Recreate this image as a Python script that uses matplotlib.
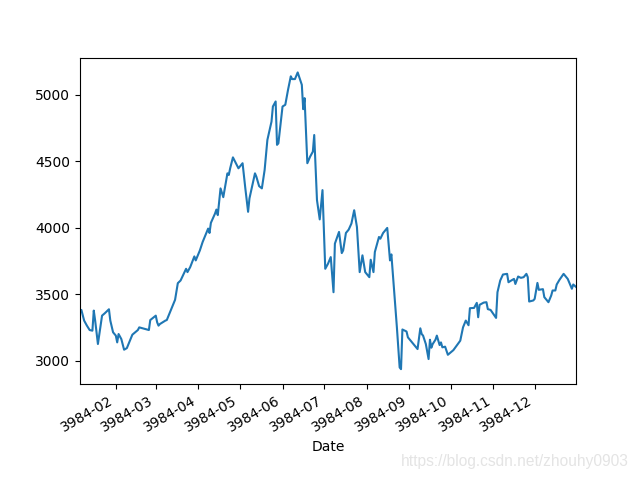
import datetime as dt
import matplotlib
matplotlib.use("Agg")
import matplotlib.pyplot as plt
import matplotlib.dates as mdates

year = 3984
day_offsets = [5, 6, 8, 10, 12, 14, 15, 16, 18, 21, 23, 26, 27, 29, 31, 32, 33, 35, 37, 39,
               41, 43, 45, 47, 48, 55, 56, 60, 61, 62, 63, 67, 68, 71, 74, 76, 78, 82, 83, 85,
               88, 89, 92, 94, 97, 98, 99, 100, 103, 104, 105, 107, 109, 112, 113, 114, 116, 120, 123, 125,
               127, 128, 132, 133, 135, 137, 139, 141, 144, 145, 147, 148, 149, 152, 154, 156, 158, 159, 161, 163,
               166, 167, 168, 170, 172, 174, 175, 177, 179, 181, 183, 185, 187, 189, 190, 193, 195, 196, 198, 200,
               202, 204, 206, 208, 210, 212, 215, 216, 218, 219, 222, 223, 225, 228, 230, 231, 235, 237, 238, 239,
               242, 243, 247, 250, 252, 253, 254, 256, 258, 259, 260, 261, 263, 264, 266, 267, 268, 270, 272, 276,
               281, 283, 285, 287, 288, 291, 293, 294, 295, 298, 300, 301, 303, 305, 307, 308, 310, 312, 315, 316,
               318, 320, 321, 323, 325, 327, 329, 330, 331, 334, 335, 337, 338, 341, 342, 345, 347, 348, 350, 351,
               353, 356, 358, 359, 362, 363, 365]
values = [3364, 3382, 3302, 3264, 3231, 3226, 3377, 3302, 3126, 3339, 3357, 3387, 3302, 3214, 3189, 3138, 3201, 3163, 3083, 3095,
          3146, 3196, 3214, 3231, 3251, 3231, 3306, 3339, 3289, 3264, 3276, 3302, 3306, 3382, 3458, 3583, 3603, 3691, 3666, 3704,
          3784, 3754, 3829, 3892, 3968, 3993, 3960, 4036, 4106, 4136, 4094, 4295, 4229, 4408, 4396, 4446, 4528, 4446, 4484, 4295,
          4119, 4220, 4408, 4383, 4312, 4295, 4433, 4659, 4797, 4910, 4948, 4622, 4634, 4910, 4923, 5036, 5137, 5116, 5116, 5166,
          5073, 4890, 4973, 4484, 4533, 4571, 4696, 4207, 4062, 4282, 3691, 3729, 3779, 3515, 3880, 3968, 3809, 3829, 3960, 3985,
          4031, 4131, 4005, 3666, 3792, 3666, 3628, 3759, 3666, 3817, 3930, 3917, 3960, 3998, 3754, 3799, 3251, 2950, 2937, 3235,
          3220, 3176, 3126, 3088, 3244, 3201, 3189, 3126, 3013, 3158, 3098, 3126, 3158, 3189, 3118, 3138, 3101, 3106, 3045, 3080,
          3151, 3251, 3302, 3267, 3395, 3397, 3435, 3327, 3420, 3437, 3440, 3388, 3382, 3352, 3322, 3515, 3603, 3648, 3653, 3590,
          3603, 3615, 3577, 3633, 3623, 3628, 3653, 3628, 3445, 3453, 3465, 3585, 3533, 3538, 3478, 3440, 3490, 3528, 3528, 3573,
          3608, 3653, 3628, 3615, 3541, 3573, 3555]
yticks = [3000, 3500, 4000, 4500, 5000]

dates = [dt.datetime(year, 1, 1) + dt.timedelta(days=d) for d in day_offsets]

fig, ax = plt.subplots(figsize=(6.4, 4.8), dpi=100)
ax.plot(dates, values, color="#1f77b4", linewidth=1.5)
ax.set_xlim(dates[0], dates[-1])
ax.xaxis.set_major_locator(mdates.MonthLocator())
ax.xaxis.set_major_formatter(mdates.DateFormatter("%Y-%m"))
ax.set_yticks(yticks)
ax.set_xlabel("Date")
fig.autofmt_xdate(bottom=0.2, rotation=30, ha="right")
fig.text(0.983, 0.029, "https://blog.csdn.net/zhouhy0903", ha="right", va="baseline",
         color="#e4e4e4", fontsize=11.2, family=["Liberation Sans", "DejaVu Sans"])
fig.savefig("out.png", dpi=100)
